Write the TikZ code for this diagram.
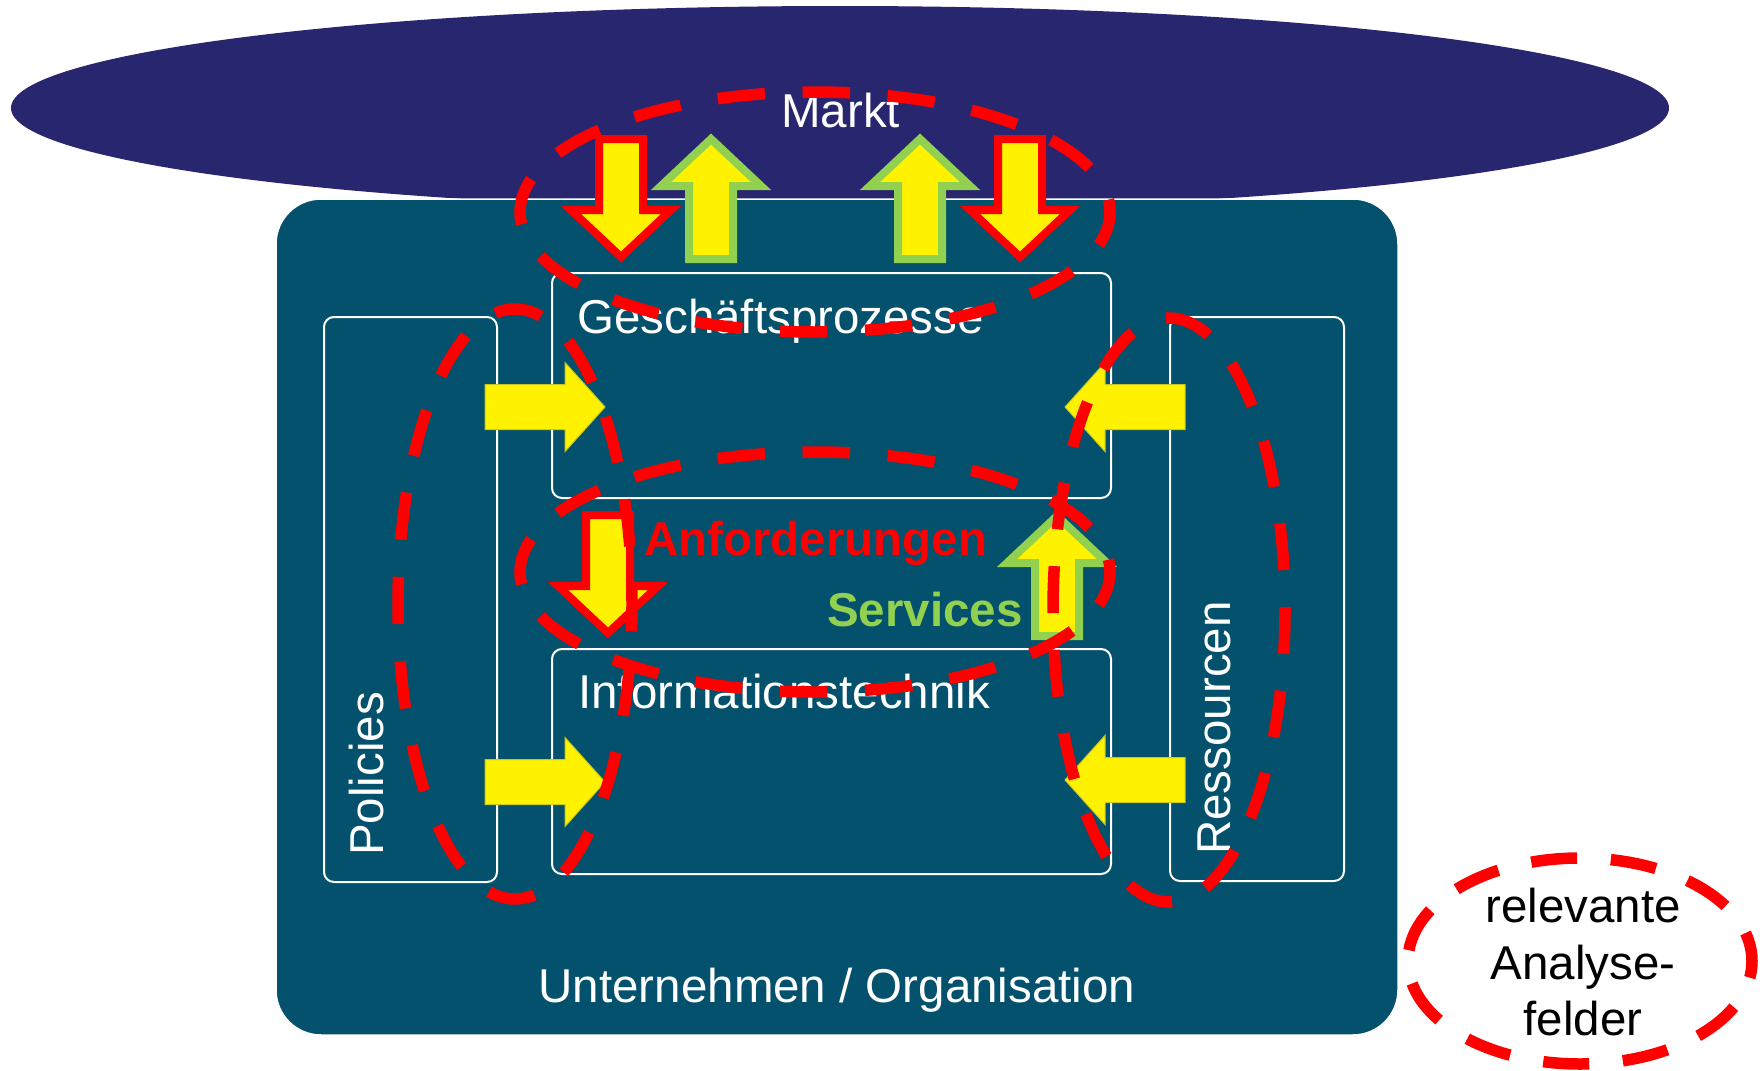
\documentclass[tikz,border=0pt]{standalone}
\usepackage{fontspec}
\setmainfont{Liberation Sans}
\definecolor{marktblue}{RGB}{41,38,112}
\definecolor{orgteal}{RGB}{3,81,108}
\definecolor{svgreen}{RGB}{146,208,80}
\definecolor{arrowedge}{RGB}{200,200,30}
\newcommand\dfont{\fontsize{47.5}{57}\selectfont}
\tikzset{
  innerbox/.style={draw=white, line width=2pt, rounded corners=10pt},
  analyse/.style={draw=red, line width=11.5pt},
  lbl/.style={inner sep=0pt, font=\dfont, text=white, anchor=base west},
  reqarrow/.style={draw=red, fill=yellow, line width=8pt, miter limit=10},
  svcarrow/.style={draw=svgreen, fill=yellow, line width=8pt, miter limit=10},
  sidearrow/.style={fill=yellow, draw=arrowedge, line width=1pt},
  uparrowpic/.pic={\path[pic actions] (0,6) -- (50,53) -- (22,53) -- (22,126) -- (-22,126) -- (-22,53) -- (-50,53) -- cycle;},
  downarrowpic/.pic={\path[pic actions] (0,-6) -- (50,-53) -- (22,-53) -- (22,-124) -- (-22,-124) -- (-22,-53) -- (-50,-53) -- cycle;},
  rightarrowpic/.pic={\path[pic actions] (0,0) -- (-40,-44.5) -- (-40,-22.5) -- (-120,-22.5) -- (-120,22.5) -- (-40,22.5) -- (-40,44.5) -- cycle;},
  leftarrowpic/.pic={\path[pic actions] (0,0) -- (40,-44.5) -- (40,-22.5) -- (120,-22.5) -- (120,22.5) -- (40,22.5) -- (40,44.5) -- cycle;}
}
\begin{document}
\begin{tikzpicture}[x=1pt,y=-1pt]
\useasboundingbox (0,0) rectangle (1762,1071);
\fill[white] (0,0) rectangle (1762,1071);

% Markt
\fill[marktblue] (840,108) ellipse [x radius=829pt, y radius=102pt];
% Unternehmen
\draw[white, line width=1.5pt, fill=orgteal, rounded corners=45pt] (276,199) rectangle (1398,1035);

% inner boxes
\draw[innerbox] (552,273) rectangle (1111,498);
\draw[innerbox] (552,649) rectangle (1111,874);
\draw[innerbox] (324,317) rectangle (497,882);
\draw[innerbox] (1170,317) rectangle (1344,881);

% texts
\node[lbl] (markt) at (781,127) {Markt};
\node[lbl] (gp) at (577,333) {Geschäftsprozesse};
\node[lbl] (it) at (578,708) {Informationstechnik};
\node[lbl, rotate=90] (pol) at (383,856) {Policies};
\node[lbl, rotate=90] (res) at (1230,855) {Ressourcen};
\node[lbl, anchor=base] (org) at (837,1002) {Unternehmen / Organisation};
\node[lbl, text=red, font=\dfont\bfseries] (anf) at (644,555) {Anforderungen};
\node[lbl, text=svgreen, font=\dfont\bfseries] (svc) at (827,626) {Services};
\node[lbl, text=black, anchor=base] (rel1) at (1583,922) {relevante};
\node[lbl, text=black, anchor=base] (rel2) at (1583,979) {Analyse-};
\node[lbl, text=black, anchor=base] (rel3) at (1583,1035) {felder};

% block arrows market <-> business processes
\pic[reqarrow] at (621,263) {downarrowpic};
\pic[svcarrow] at (711,133) {uparrowpic};
\pic[svcarrow] at (920,133) {uparrowpic};
\pic[reqarrow] at (1020,263) {downarrowpic};
% requirements / services
\pic[reqarrow] at (608,639) {downarrowpic};
\pic[svcarrow] at (1057,510) {uparrowpic};
% policies / resources
\pic[sidearrow] at (605,407) {rightarrowpic};
\pic[sidearrow] at (605,782) {rightarrowpic};
\pic[sidearrow] at (1065,407) {leftarrowpic};
\pic[sidearrow] at (1065,780) {leftarrowpic};

% analysis fields
\draw[analyse, dash pattern=on 47.5pt off 37.65pt, dash phase=35pt] (815,212) ellipse [x radius=295pt, y radius=120pt];
\draw[analyse, dash pattern=on 47.5pt off 37.65pt, dash phase=35pt] (815,572) ellipse [x radius=295pt, y radius=120pt];
\draw[analyse, dash pattern=on 47.3pt off 37.4pt, dash phase=27pt] (515,604) ellipse [x radius=117pt, y radius=295pt];
\draw[analyse, dash pattern=on 47pt off 36.9pt, dash phase=44pt] (1169,610) ellipse [x radius=116pt, y radius=292pt];
\draw[analyse, dash pattern=on 46pt off 33.8pt, dash phase=17pt] (1580,961) ellipse [x radius=172pt, y radius=103pt];
\end{tikzpicture}
\end{document}
